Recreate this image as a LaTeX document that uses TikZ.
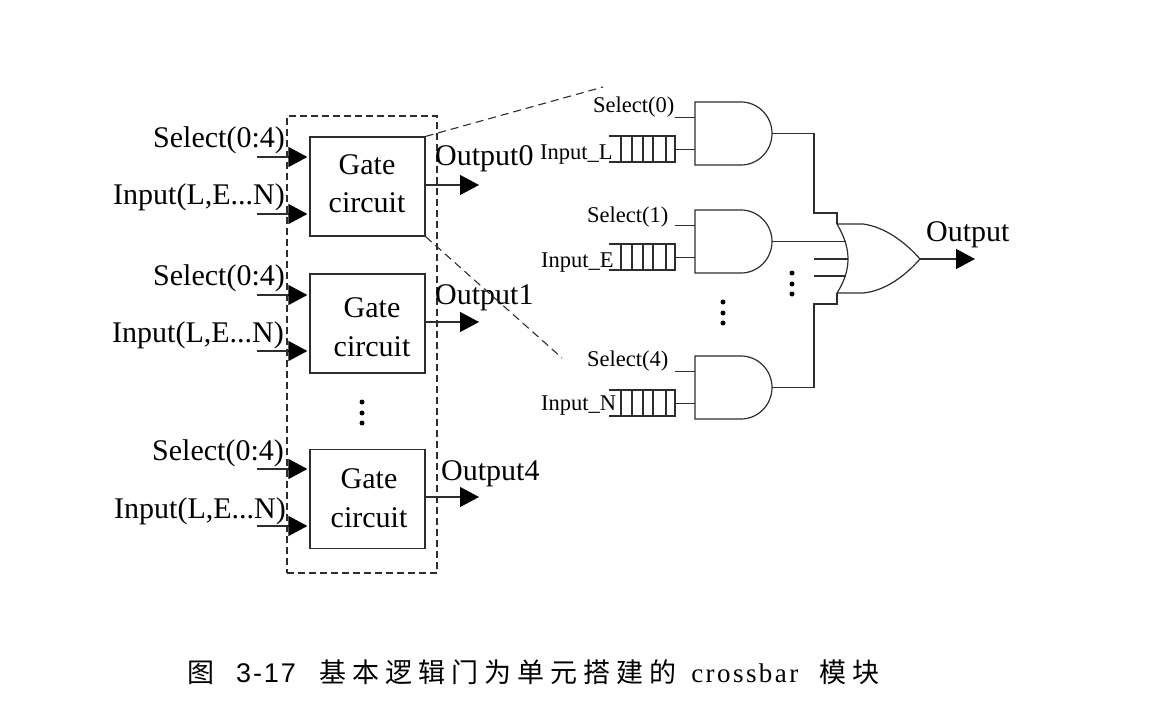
\documentclass[tikz,border=0pt]{standalone}
\usepackage{fontspec}
\usepackage{tikz}
\usetikzlibrary{arrows.meta}
\setmainfont{Liberation Serif}
\newfontfamily\cjkfont[LetterSpace=22]{Noto Sans CJK SC}
\newfontfamily\capsans[LetterSpace=7]{Liberation Sans}
\newfontfamily\capserif[LetterSpace=9]{Liberation Serif}
\definecolor{linegray}{RGB}{45, 45, 45}
\tikzset{
	bigtext/.style={anchor=base west, inner sep=0pt, font=\fontsize{30}{30}\selectfont},
	smalltext/.style={anchor=base west, inner sep=0pt, font=\fontsize{22.5}{22.5}\selectfont},
	gatebox/.style={draw=linegray, line width=1.2pt, minimum width=115pt, minimum height=99pt, inner sep=0pt},
	gatetext/.style={anchor=base, inner sep=0pt, font=\fontsize{30}{30}\selectfont},
	wire/.style={draw=linegray, line width=1.2pt},
	sigarrow/.style={wire, -{Triangle[length=19pt,width=20pt,color=black]}, shorten >=2pt},
	zoomline/.style={draw=linegray, line width=1.1pt, dash pattern=on 8pt off 5pt},
	dotnode/.style={circle, fill=black, inner sep=0pt, minimum size=5pt}
}

\begin{document}
\begin{tikzpicture}[x=1pt, y=-1pt]
	\useasboundingbox (0,0) rectangle (1173,714);
	% Recuadro exterior
	\node[draw=linegray, line width=1.2pt, dash pattern=on 7pt off 4pt, minimum width=150pt, minimum height=457pt, inner sep=0pt] (frame) at (362,344.5) {};

	% Bloques de la izquierda
	\foreach \n/\cy/\tx/\gy/\cb/\sx/\sb/\ix/\ib/\ys/\yi/\yo/\ox/\ob/\num in {
		a/186.5/367/175/213/153/148/113/205/157/214/185/435/166/0,
		b/323.5/372/317/356/153/285/112/342/295/351/322/435/304/1,
		c/499/369/488/527/152/460/114/518/469/526/497/441/480/4} {
		\node[gatebox] (box\n) at (367.5,\cy) {};
		\node[gatetext] (gate\n) at (\tx,\gy) {Gate};
		\node[gatetext] (circ\n) at (\tx,\cb) {circuit};
		\node[bigtext] (sellab\n) at (\sx,\sb) {Select(0:4)};
		\node[bigtext] (inlab\n) at (\ix,\ib) {Input(L,E...N)};
		\node[bigtext] (outlab\n) at (\ox,\ob) {Output\num};
		\coordinate (sel\n) at (257,\ys);
		\coordinate (inp\n) at (257,\yi);
		\coordinate (out\n) at (479,\yo);
		\draw[sigarrow] (sel\n) -- (box\n.west |- sel\n);
		\draw[sigarrow] (inp\n) -- (box\n.west |- inp\n);
		\draw[sigarrow, shorten >=0pt] (box\n.east |- out\n) -- (out\n);
	}
	\foreach \k/\y in {1/402,2/413,3/423} {
		\node[dotnode] (ldot\k) at (362,\y) {};
	}

	% Lineas de ampliacion
	\coordinate (zoomtop) at (603,87);
	\coordinate (zoombot) at (562,358);
	\draw[zoomline] (boxa.north east) -- (zoomtop);
	\draw[zoomline] (boxa.south east) -- (zoombot);

	% Puertas AND con sus colas
	\foreach \n/\y in {0/133.5,1/241.5,2/387.5} {
		\coordinate (and\n) at (772,\y);
		\draw[wire] (695,\y-31.5) -- (741,\y-31.5) .. controls (758,\y-31.5) and (772,\y-17.4) .. (and\n)
			.. controls (772,\y+17.4) and (758,\y+31.5) .. (741,\y+31.5) -- (695,\y+31.5) -- cycle;
		\coordinate (ssel\n) at (675,\y-16);
		\coordinate (sinp\n) at (675,\y+16);
		\draw[wire] (ssel\n) -- (695,\y-16);
		\draw[wire] (sinp\n) -- (695,\y+16);
		% Cola
		\draw[wire] (609,\y+2.5) -- (675,\y+2.5) -- (675,\y+28.5) -- (609,\y+28.5);
		\foreach \x in {621,632,643,653,666} {
			\draw[wire] (\x,\y+2.5) -- (\x,\y+28.5);
		}
	}
	\node[smalltext] (sel0lab) at (593,113) {Select(0)};
	\node[smalltext] (sel1lab) at (587,223) {Select(1)};
	\node[smalltext] (sel4lab) at (587,366) {Select(4)};
	\node[smalltext] (inLlab) at (540,160) {Input\_L};
	\node[smalltext] (inElab) at (541,268) {Input\_E};
	\node[smalltext] (inNlab) at (541,410) {Input\_N};

	% Puerta OR
	\coordinate (ortop) at (837,224);
	\coordinate (orbot) at (837,293);
	\coordinate (ortip) at (920,259);
	\coordinate (output) at (975,259);
	\draw[wire] (ortop) .. controls (844,236) and (848,247) .. (848,259)
		.. controls (848,271) and (844,282) .. (orbot)
		-- (863,293) .. controls (885,291) and (905,276) .. (ortip)
		.. controls (905,242) and (885,227) .. (863,224) -- cycle;
	\draw[wire] (and0) -| (814,213) -| (ortop);
	\draw[wire] (and1) -- (845.5,241.5);
	\draw[wire] (814,259) -- (848,259);
	\draw[wire] (814,276) -- (845.5,276);
	\draw[wire] (and2) -| (814,304) -| (orbot);
	\draw[sigarrow, shorten >=0pt] (ortip) -- (output);
	\node[bigtext] (outputlab) at (926,242) {Output};
	\foreach \k/\y in {1/273,2/284,3/294} {
		\node[dotnode] (rdot\k) at (792,\y) {};
	}
	\foreach \k/\y in {1/302,2/313,3/323} {
		\node[dotnode] (mdot\k) at (723,\y) {};
	}

	% Pie de figura
	\node[anchor=base west, inner sep=0pt, font=\fontsize{27}{27}\selectfont] (caption) at (187,682) {{\cjkfont 图}\hspace{22pt}{\capsans 3-17}\hspace{24pt}{\cjkfont 基本逻辑门为单元搭建的}\hspace{15pt}{\capserif crossbar}\hspace{21pt}{\cjkfont 模块}};
\end{tikzpicture}
\end{document}
